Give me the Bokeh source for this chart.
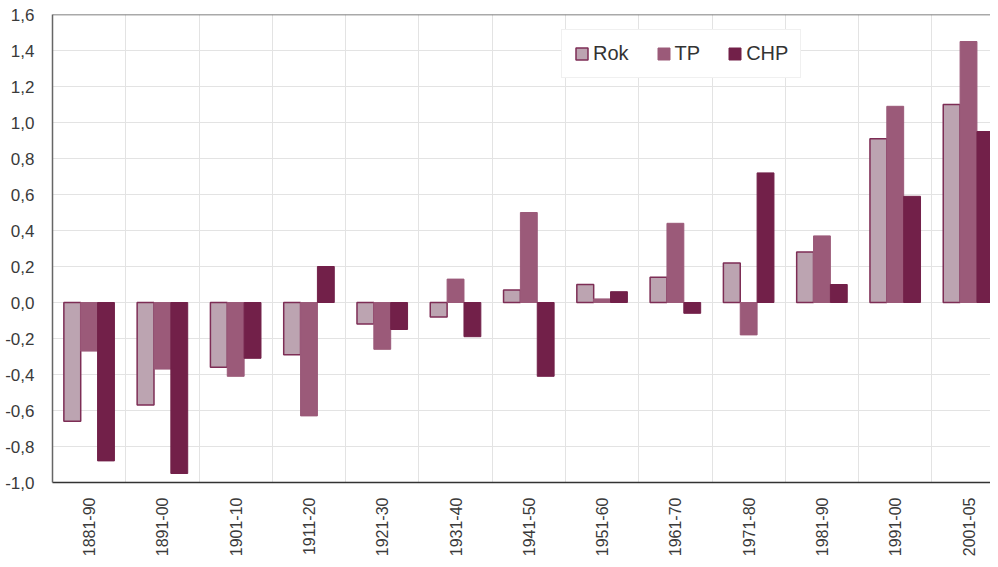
from bokeh.plotting import figure
from bokeh.models import (ColumnDataSource, FixedTicker, Range1d, Legend, LegendItem, Span)
from bokeh.transform import dodge
from bokeh.embed import file_html
from bokeh.resources import INLINE
from math import pi

categories = ["1881-90", "1891-00", "1901-10", "1911-20", "1921-30", "1931-40", "1941-50",
              "1951-60", "1961-70", "1971-80", "1981-90", "1991-00", "2001-05"]
rok = [-0.66, -0.57, -0.36, -0.29, -0.12, -0.08, 0.07, 0.10, 0.14, 0.22, 0.28, 0.91, 1.10]
tp = [-0.27, -0.37, -0.41, -0.63, -0.26, 0.13, 0.50, 0.02, 0.44, -0.18, 0.37, 1.09, 1.45]
chp = [-0.88, -0.95, -0.31, 0.20, -0.15, -0.19, -0.41, 0.06, -0.06, 0.72, 0.10, 0.59, 0.95]
y_ticks = [-1.0, -0.8, -0.6, -0.4, -0.2, 0.0, 0.2, 0.4, 0.6, 0.8, 1.0, 1.2, 1.4, 1.6]

FONT = "Liberation Sans"
C_ROK = "#bca4b1"
C_ROK_LINE = "#7d2d55"
C_TP = "#9b5a79"
C_CHP = "#722049"

centers = [i + 0.5 for i in range(len(categories))]
src = ColumnDataSource(dict(x=centers, rok=rok, tp=tp, chp=chp))

p = figure(width=990, height=559, output_backend="svg", toolbar_location=None,
           x_range=Range1d(0, 12.8), y_range=Range1d(-1.0, 1.6),
           min_border_left=52, min_border_right=0, min_border_top=14, min_border_bottom=0)
p.outline_line_color = None
p.background_fill_color = "white"
p.border_fill_color = "white"

bw = 0.23
r1 = p.vbar(x=dodge("x", -bw, range=p.x_range), top="rok", bottom=0, width=bw, source=src,
            fill_color=C_ROK, line_color=C_ROK_LINE, line_width=1.5)
r2 = p.vbar(x=dodge("x", 0, range=p.x_range), top="tp", bottom=0, width=bw, source=src,
            fill_color=C_TP, line_color=C_TP, line_width=1)
r3 = p.vbar(x=dodge("x", bw, range=p.x_range), top="chp", bottom=0, width=bw, source=src,
            fill_color=C_CHP, line_color=C_CHP, line_width=1)

# axes
p.xaxis.ticker = FixedTicker(ticks=centers)
p.xaxis.major_label_overrides = {c: lab for c, lab in zip(centers, categories)}
p.xaxis.major_label_orientation = pi / 2
p.xaxis.major_label_standoff = 9
p.yaxis.ticker = FixedTicker(ticks=y_ticks)
p.yaxis.major_label_overrides = {t: f"{t:.1f}".replace(".", ",") for t in y_ticks}
p.yaxis.major_label_standoff = 12
for ax in (p.xaxis, p.yaxis):
    ax.major_label_text_font = FONT
    ax.major_label_text_font_size = "17px"
    ax.major_label_text_color = "#3a3a3a"
    ax.major_tick_line_color = None
    ax.minor_tick_line_color = None
p.xaxis.major_label_text_font_size = "16px"
p.xaxis.axis_line_color = "#333333"
p.xaxis.axis_line_width = 1.5
p.yaxis.axis_line_color = "#666666"
p.yaxis.axis_line_width = 1.5

p.xgrid.ticker = FixedTicker(ticks=list(range(1, len(categories))))
p.xgrid.grid_line_color = "#e3e3e3"
p.ygrid.grid_line_color = "#e3e3e3"

p.add_layout(Span(location=1.6, dimension="width", line_color="#555555", line_width=1.5))

legend = Legend(items=[LegendItem(label="Rok", renderers=[r1]),
                       LegendItem(label="TP", renderers=[r2]),
                       LegendItem(label="CHP", renderers=[r3])],
                orientation="horizontal", location=(509, 404))
legend.label_text_font = FONT
legend.label_text_font_size = "20px"
legend.label_text_color = "#333333"
legend.glyph_width = 15
legend.glyph_height = 15
legend.label_standoff = 4
legend.spacing = 27
legend.padding = 12
legend.margin = 0
legend.border_line_color = "#e2e2e2"
legend.background_fill_color = "white"
legend.background_fill_alpha = 1
p.add_layout(legend)

open("out.html", "w").write(file_html(p, INLINE))
